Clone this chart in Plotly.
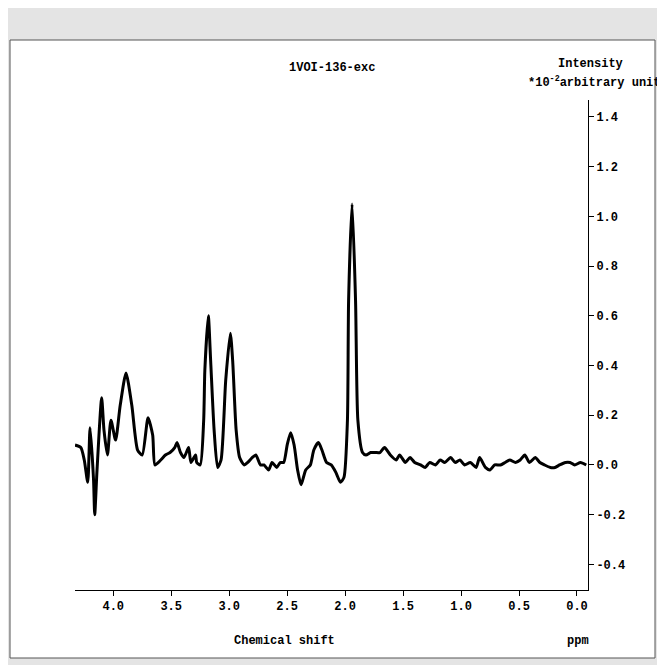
import plotly.graph_objects as go

ppm = [4.33,4.28,4.25,4.22,4.20,4.17,4.16,4.14,4.10,4.08,4.05,4.02,3.98,3.94,3.89,3.84,3.79,3.75,3.70,3.66,3.64,3.59,3.55,3.51,3.47,3.45,3.42,3.39,3.35,3.33,3.29,3.28,3.25,3.22,3.21,3.18,3.16,3.13,3.10,3.07,3.03,2.99,2.97,2.94,2.91,2.87,2.84,2.80,2.77,2.73,2.70,2.66,2.63,2.59,2.56,2.53,2.50,2.47,2.44,2.41,2.38,2.34,2.30,2.27,2.23,2.20,2.16,2.12,2.08,2.04,2.01,1.98,1.97,1.94,1.91,1.89,1.85,1.82,1.78,1.74,1.70,1.66,1.61,1.56,1.53,1.48,1.44,1.40,1.35,1.31,1.27,1.22,1.18,1.14,1.09,1.05,1.01,0.97,0.92,0.87,0.84,0.79,0.75,0.71,0.66,0.62,0.58,0.53,0.49,0.45,0.41,0.36,0.32,0.28,0.23,0.19,0.15,0.10,0.06,0.02,-0.03,-0.08]
intensity = [0.08,0.07,0.02,-0.07,0.15,-0.06,-0.2,-0.02,0.27,0.14,0.04,0.18,0.10,0.24,0.37,0.24,0.06,0.04,0.19,0.12,0.0,0.02,0.04,0.05,0.07,0.09,0.05,0.03,0.07,0.01,0.04,0.01,0.0,0.18,0.38,0.6,0.42,0.14,-0.01,0.02,0.34,0.53,0.42,0.14,0.03,0.0,0.01,0.03,0.04,0.0,0.0,-0.02,0.01,-0.01,0.01,0.01,0.08,0.13,0.08,-0.02,-0.08,-0.02,0.0,0.06,0.09,0.06,0.01,0.0,-0.03,-0.07,-0.05,0.18,0.66,1.05,0.66,0.18,0.05,0.04,0.05,0.05,0.05,0.07,0.04,0.02,0.04,0.01,0.03,0.01,0.0,-0.01,0.01,0.0,0.02,0.01,0.03,0.01,0.02,0.0,0.01,-0.01,0.03,-0.01,-0.02,0.0,0.0,0.01,0.02,0.01,0.02,0.04,0.01,0.03,0.01,0.0,-0.01,-0.01,0.0,0.01,0.01,0.0,0.01,0.0,0.02]

xticks = [4.0,3.5,3.0,2.5,2.0,1.5,1.0,0.5,0.0]
yticks = [-0.4,-0.2,0.0,0.2,0.4,0.6,0.8,1.0,1.2,1.4]

FONT = dict(family="Liberation Mono, Courier New, monospace", size=12, color="black")
TFONT = dict(family="Liberation Mono, Courier New, monospace", size=12, color="black", weight="bold")

fig = go.Figure(go.Scatter(x=ppm, y=intensity, mode="lines",
                           line=dict(color="black", width=3, shape="spline", smoothing=0.6),
                           hoverinfo="skip"))
fig.update_layout(
    width=673, height=673, paper_bgcolor="#e4e4e4", plot_bgcolor="white",
    margin=dict(l=67, r=93, t=92, b=91), showlegend=False,
    font=FONT,
    xaxis=dict(range=[4.33, -0.095], tickvals=xticks, ticktext=[f"{v:.1f}" for v in xticks],
               showgrid=False, zeroline=False, showline=True, linecolor="black", linewidth=1,
               ticks="outside", ticklen=5, tickcolor="black", tickfont=TFONT),
    yaxis=dict(range=[-0.503, 1.468], side="right", tickvals=yticks,
               ticktext=[f"{v:.1f}" for v in yticks],
               showgrid=False, zeroline=False, showline=True, linecolor="black", linewidth=1,
               ticks="outside", ticklen=5, tickcolor="black", tickfont=TFONT),
    shapes=[dict(type="rect", xref="paper", yref="paper", layer="below",
                 x0=-65/513, x1=1 + 67/513, y0=-68/490, y1=550/490,
                 fillcolor="white", line=dict(color="#555555", width=1))],
)
def ann(text, x, y, xa="center"):
    fig.add_annotation(text=text, xref="paper", yref="paper",
                       x=(x-75)/513, y=(590-y)/490, xanchor=xa, yanchor="middle",
                       showarrow=False, font=dict(**FONT))
ann("<b>1VOI-136-exc</b>", 332, 68)
ann("<b>Intensity</b>", 590, 64)
ann("<b>*10<sup>-2</sup>arbitrary unit</b>", 594, 82)
ann("<b>Chemical shift</b>", 284, 641)
ann("<b>ppm</b>", 578, 641)
fig.write_html("out.html")
